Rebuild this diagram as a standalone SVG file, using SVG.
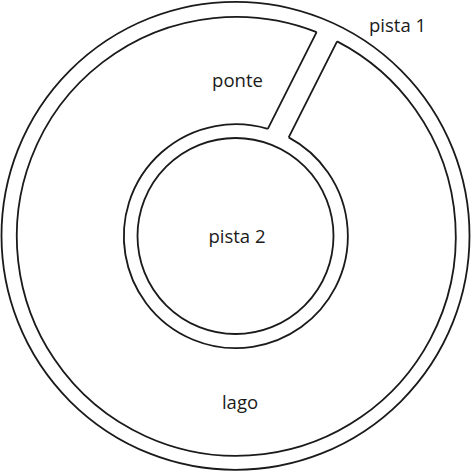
<svg xmlns="http://www.w3.org/2000/svg" width="471" height="471" viewBox="0 0 471 471">
<style>
.ln{fill:none;stroke:#1a1a1a;stroke-width:1.8}
.lb{font-family:"Open Sans","Noto Sans",sans-serif;font-size:18.5px;fill:#1a1a1a}
</style>
<rect width="471" height="471" fill="#fff"/>
<g id="pista1">
<circle class="ln" cx="235.5" cy="235.8" r="234"/>
<path class="ln" d="M316.6,32.1 A219.5,219.5 0 1 0 337.1,41.4"/>
<text class="lb" x="369" y="32">pista 1</text>
</g>
<g id="connectors">
<g id="ponte-bridge">
<path class="ln" d="M267.8,128.8 L316.6,32.1 M288.7,137.4 L337.1,41.4"/>
</g>
</g>
<g id="ponte">
<text class="lb" x="237.5" y="87" text-anchor="middle">ponte</text>
</g>
<g id="pista2">
<path class="ln" d="M267.8,128.8 A112,112 0 1 0 288.7,137.4"/>
<circle class="ln" cx="235.5" cy="236" r="98"/>
<text class="lb" x="237" y="243" text-anchor="middle">pista 2</text>
</g>
<g id="lago">
<text class="lb" x="240" y="409" text-anchor="middle">lago</text>
</g>
</svg>
